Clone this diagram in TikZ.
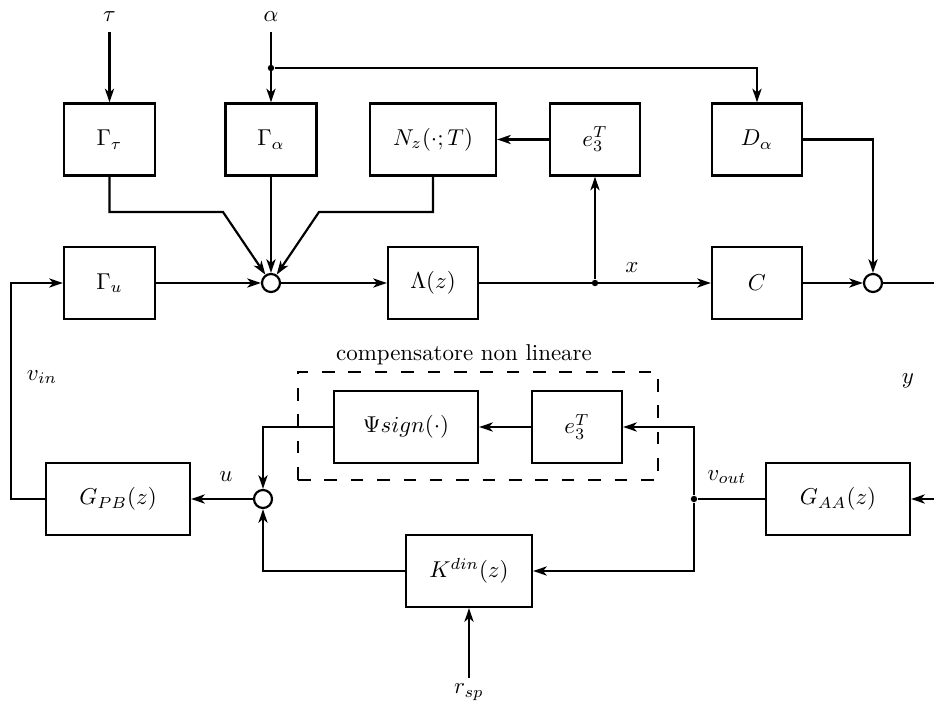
\documentclass[tikz,border=0pt]{standalone}
\usetikzlibrary{arrows.meta}
\begin{document}
\def\pxu{0.436pt}
\begin{tikzpicture}[x=0.436pt,y=-0.436pt, line width=0.95pt,
  >={Stealth[length=6pt,width=4pt,inset=1.7pt]},
  blk/.style={draw, minimum height={72*\pxu}, inner sep=0pt},
  wS/.style={blk, minimum width={90*\pxu}},
  wM/.style={blk, minimum width={126*\pxu}},
  wL/.style={blk, minimum width={144*\pxu}},
  sumc/.style={draw, circle, minimum size={18*\pxu}, inner sep=0pt},
  lab/.style={inner sep=0pt},
  dotc/.style={fill, circle, minimum size=2.8pt, inner sep=0pt}]
\useasboundingbox (0,0) rectangle (934,704);
\clip (0,0) rectangle (934,704);

% labels
\node[lab] (tau) at (109.5,17) {$\tau$};
\node[lab] (alpha) at (271,17) {$\alpha$};
\node[lab] (xl) at (632,268) {$x$};
\node[lab] (yl) at (908,381) {$y$};
\node[lab] (vin) at (42,377) {$v_{in}$};
\node[lab] (ul) at (226,477) {$u$};
\node[lab] (voutl) at (727,477) {$v_{out}$};
\node[lab] (rsp) at (469,692) {$r_{sp}$};
\node[lab] (complab) at (464,355) {compensatore non lineare};

% top row
\node[wS, minimum width={91*\pxu}] (Gt) at (109.5,139.5) {$\Gamma_\tau$};
\node[wS, minimum width={91*\pxu}] (Ga) at (271,139.5) {$\Gamma_\alpha$};
\node[wM] (Nz) at (433,139.5) {$N_z(\cdot;T)$};
\node[wS] (e3a) at (595,139.5) {$e_3^T$};
\node[wS] (Da) at (757,139.5) {$D_\alpha$};

% middle row
\node[wS, minimum width={91*\pxu}] (Gu) at (109.5,283) {$\Gamma_u$};
\node[sumc] (s1) at (271,283) {};
\node[wS] (L) at (433,283) {$\Lambda(z)$};
\node[wS] (C) at (757,283) {$C$};
\node[sumc] (s2) at (873,283) {};
\node[dotc] (jx) at (595,283) {};

% lower
\node[draw, dash pattern=on 5.5pt off 6pt, minimum width={360*\pxu}, minimum height={108*\pxu}, inner sep=0pt] (comp) at (478,426) {};
\node[wL] (Psi) at (406,427) {$\Psi sign(\cdot)$};
\node[wS] (e3b) at (577,427) {$e_3^T$};
\node[sumc] (s3) at (263,499) {};
\node[wL] (GPB) at (118,499) {$G_{PB}(z)$};
\node[wL] (GAA) at (838,499) {$G_{AA}(z)$};
\node[dotc] (jv) at (694,499) {};
\node[wM] (K) at (469,571) {$K^{din}(z)$};

% coordinates
\coordinate (tauS) at (109.5,32);
\coordinate (alS) at (271,32);
\node[dotc] (ja) at (271,68) {};
\coordinate (bl) at (223,212);
\coordinate (br) at (319,212);
\coordinate (yout) at (960,283);
\coordinate (yin) at (960,499);
\coordinate (lc) at (11,499);
\coordinate (rspS) at (469,678);

% connections top
\draw[->] (tauS) -- (Gt);
\draw[->] (alS) -- (Ga);
\draw[->] (ja) -| (Da);
\draw[->] (Gt.south) |- (bl) -- (s1);
\draw[->] (Ga) -- (s1);
\draw[->] (Nz.south) |- (br) -- (s1);
\draw[->] (Gu) -- (s1);
\draw[->] (s1) -- (L);
\draw[->] (L) -- (C);
\draw[->] (jx) -- (e3a);
\draw[->] (e3a) -- (Nz);
\draw[->] (C) -- (s2);
\draw[->] (Da) -| (s2);
\draw (s2) -- (yout);

% connections lower
\draw[->] (yin) -- (GAA);
\draw (GAA) -- (jv);
\draw[->] (jv) |- (e3b);
\draw[->] (e3b) -- (Psi);
\draw[->] (Psi) -| (s3);
\draw[->] (jv) |- (K);
\draw[->] (K) -| (s3);
\draw[->] (s3) -- (GPB);
\draw[->] (GPB.west) -- (lc) |- (Gu.west);
\draw[->] (rspS) -- (K);
\end{tikzpicture}
\end{document}
